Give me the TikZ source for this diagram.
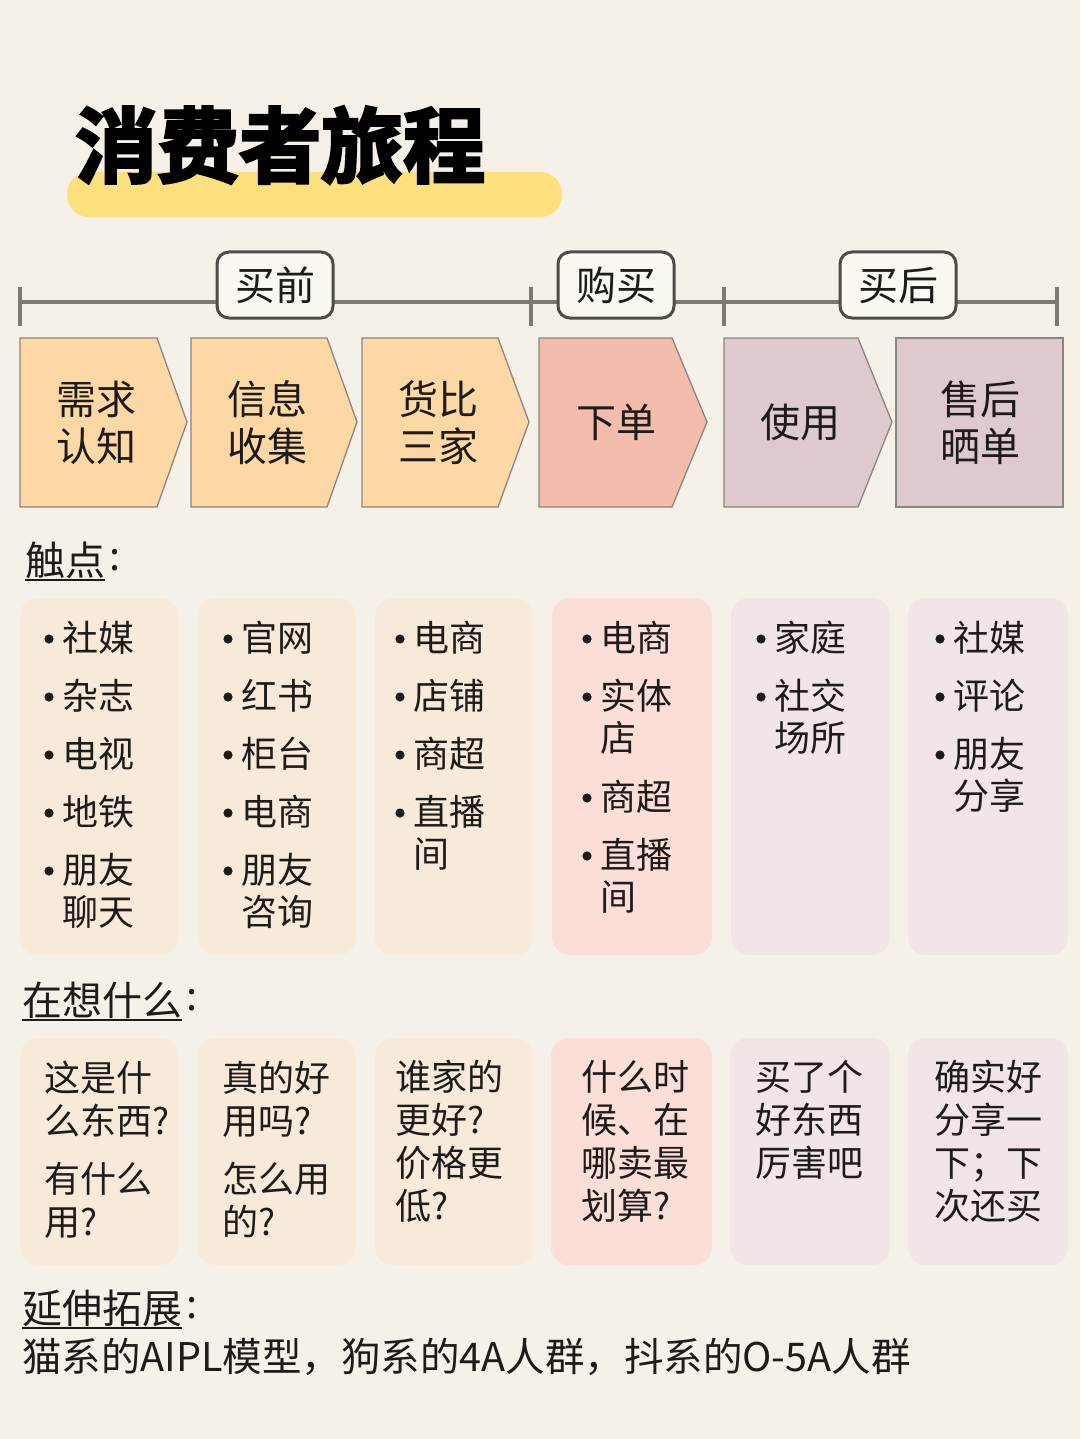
\documentclass[tikz,border=0pt]{standalone}
\usepackage{fontspec}
\usepackage{xcolor}
\usepackage{tikz}
\newfontfamily\cjk{Noto Sans CJK SC}
\newfontfamily\cjkheavy[UprightFont={* Bold},FakeBold=3.5]{Noto Sans CJK SC}
\definecolor{bgcream}{HTML}{F6F1E8}
\definecolor{hilite}{HTML}{FCE07E}
\definecolor{chevorange}{HTML}{FDD8A5}
\definecolor{chevsalmon}{HTML}{F3BCAC}
\definecolor{chevmauve}{HTML}{DEC9CC}
\definecolor{chevline}{HTML}{8A8580}
\definecolor{cardpeach}{HTML}{F8EADA}
\definecolor{cardpink}{HTML}{FBDED7}
\definecolor{cardmauve}{HTML}{F1E6E5}
\definecolor{lineg}{HTML}{7C7975}
\definecolor{darkg}{HTML}{4E4B48}
\definecolor{boxwhite}{HTML}{FBF8F2}
\definecolor{inkblack}{HTML}{1E1C1A}

\begin{document}
\begin{tikzpicture}[x=1pt,y=-1pt]
\tikzstyle{every node}=[font=\cjk, inner sep=0pt, text=inkblack]
\tikzstyle{phase}=[draw=darkg, line width=3pt, fill=boxwhite, rounded corners=12pt, minimum width=116pt, minimum height=66pt, font=\cjk\fontsize{40}{40}\selectfont]
\tikzstyle{chev}=[draw=chevline, line width=1.3pt]
\tikzstyle{stage}=[font=\cjk\fontsize{40}{47}\selectfont, align=center]
\tikzstyle{heading}=[font=\cjk\fontsize{40}{40}\selectfont, anchor=west]
\tikzstyle{card}=[rounded corners=18pt]
\tikzstyle{dot}=[fill=inkblack]
\tikzstyle{item}=[font=\cjk\fontsize{36}{42}\selectfont, anchor=west, align=left]
\tikzstyle{thought}=[font=\cjk\fontsize{36}{43}\selectfont, anchor=west, align=left]
\tikzstyle{tick}=[lineg, line width=3.5pt]

% background
\fill[bgcream] (0,0) rectangle (1080,1439);

% title
\fill[hilite, rounded corners=22pt] (67,172) rectangle (562,217);
\node[font=\cjkheavy\fontsize{82}{82}\selectfont, anchor=west, text=black] (title) at (75,145) {消费者旅程};

% timeline
\draw[tick] (20,302) -- (1057,302);
\draw[tick] (20,287) -- (20,326);
\draw[tick] (531,287) -- (531,326);
\draw[tick] (724,287) -- (724,326);
\draw[tick] (1057,287) -- (1057,326);
\node[phase] (pre) at (275,285) {买前};
\node[phase] (buy) at (616,285) {购买};
\node[phase] (post) at (898,285) {买后};

% stages
\filldraw[chev, fill=chevorange] (20,338) -- (157,338) -- (187,422) -- (157,507) -- (20,507) -- cycle;
\filldraw[chev, fill=chevorange] (191,338) -- (327,338) -- (357,422) -- (327,507) -- (191,507) -- cycle;
\filldraw[chev, fill=chevorange] (362,338) -- (498,338) -- (529,422) -- (498,507) -- (362,507) -- cycle;
\filldraw[chev, fill=chevsalmon] (539,338) -- (672,338) -- (707,422) -- (672,507) -- (539,507) -- cycle;
\filldraw[chev, fill=chevmauve] (724,338) -- (858,338) -- (892,422) -- (858,507) -- (724,507) -- cycle;
\filldraw[chev, fill=chevmauve] (896,338) rectangle (1063,507);
\node[stage] (need) at (96,423) {需求\\认知};
\node[stage] (info) at (267,423) {信息\\收集};
\node[stage] (comp) at (438,423) {货比\\三家};
\node[stage] (order) at (616,422) {下单};
\node[stage] (use) at (800,422) {使用};
\node[stage] (share) at (980,423) {售后\\晒单};

% touchpoints
\node[heading] (touch) at (25,560) {触点};
\node[heading] (touchc) at ([xshift=4pt]touch.east) {:};
\draw[inkblack, line width=2.5pt] ([yshift=-5pt]touch.base west) -- ([yshift=-5pt]touch.base east);

\fill[cardpeach, card] (20,598) rectangle (178,955);
\fill[cardpeach, card] (198,598) rectangle (356,955);
\fill[cardpeach, card] (375,598) rectangle (533,955);
\fill[cardpink, card] (552,598) rectangle (712,955);
\fill[cardmauve, card] (731,598) rectangle (890,955);
\fill[cardmauve, card] (908,598) rectangle (1068,955);

\fill[dot] (49,639) circle (4.6);
\node[item] (tpa1) at (62,638) {社媒};
\fill[dot] (49,697) circle (4.6);
\node[item] (tpa2) at (62,696) {杂志};
\fill[dot] (49,755) circle (4.6);
\node[item] (tpa3) at (62,754) {电视};
\fill[dot] (49,813) circle (4.6);
\node[item] (tpa4) at (62,812) {地铁};
\fill[dot] (49,871) circle (4.6);
\node[item] (tpa5) at (62,891) {朋友\\聊天};

\fill[dot] (228,639) circle (4.6);
\node[item] (tpb1) at (241,638) {官网};
\fill[dot] (228,697) circle (4.6);
\node[item] (tpb2) at (241,696) {红书};
\fill[dot] (228,755) circle (4.6);
\node[item] (tpb3) at (241,754) {柜台};
\fill[dot] (228,813) circle (4.6);
\node[item] (tpb4) at (241,812) {电商};
\fill[dot] (228,871) circle (4.6);
\node[item] (tpb5) at (241,891) {朋友\\咨询};

\fill[dot] (400,639) circle (4.6);
\node[item] (tpc1) at (413,638) {电商};
\fill[dot] (400,697) circle (4.6);
\node[item] (tpc2) at (413,696) {店铺};
\fill[dot] (400,755) circle (4.6);
\node[item] (tpc3) at (413,754) {商超};
\fill[dot] (400,813) circle (4.6);
\node[item] (tpc4) at (413,833) {直播\\间};

\fill[dot] (587,639) circle (4.6);
\node[item] (tpd1) at (600,638) {电商};
\fill[dot] (587,697) circle (4.6);
\node[item] (tpd2) at (600,717) {实体\\店};
\fill[dot] (587,798) circle (4.6);
\node[item] (tpd3) at (600,797) {商超};
\fill[dot] (587,856) circle (4.6);
\node[item] (tpd4) at (600,876) {直播\\间};

\fill[dot] (761,639) circle (4.6);
\node[item] (tpe1) at (774,638) {家庭};
\fill[dot] (761,697) circle (4.6);
\node[item] (tpe2) at (774,717) {社交\\场所};

\fill[dot] (940,639) circle (4.6);
\node[item] (tpf1) at (953,638) {社媒};
\fill[dot] (940,697) circle (4.6);
\node[item] (tpf2) at (953,696) {评论};
\fill[dot] (940,755) circle (4.6);
\node[item] (tpf3) at (953,775) {朋友\\分享};

% thoughts
\node[heading] (think) at (22,1000) {在想什么};
\node[heading] (thinkc) at ([xshift=4pt]think.east) {:};
\draw[inkblack, line width=2.5pt] ([yshift=-5pt]think.base west) -- ([yshift=-5pt]think.base east);

\fill[cardpeach, card] (20,1038) rectangle (178,1265);
\fill[cardpeach, card] (197,1038) rectangle (356,1265);
\fill[cardpeach, card] (375,1038) rectangle (533,1265);
\fill[cardpink, card] (551,1038) rectangle (712,1265);
\fill[cardmauve, card] (730,1038) rectangle (890,1265);
\fill[cardmauve, card] (908,1038) rectangle (1068,1265);

\node[thought] (tha1) at (44,1099) {这是什\\么东西?};
\node[thought] (tha2) at (44,1200) {有什么\\用?};
\node[thought] (thb1) at (222,1099) {真的好\\用吗?};
\node[thought] (thb2) at (222,1200) {怎么用\\的?};
\node[thought] (thc) at (395,1141) {谁家的\\更好?\\价格更\\低?};
\node[thought] (thd) at (581,1141) {什么时\\候、在\\哪卖最\\划算?};
\node[thought] (the) at (755,1120) {买了个\\好东西\\厉害吧};
\node[thought] (thf) at (934,1141) {确实好\\分享一\\下；下\\次还买};

% more
\node[heading] (more) at (22,1308) {延伸拓展};
\node[heading] (morec) at ([xshift=4pt]more.east) {:};
\draw[inkblack, line width=2.5pt] ([yshift=-5pt]more.base west) -- ([yshift=-5pt]more.base east);
\node[font=\cjk\fontsize{39.5}{40}\selectfont, anchor=west] (models) at (22,1357) {猫系的AIPL模型，狗系的4A人群，抖系的O-5A人群};
\end{tikzpicture}
\end{document}
